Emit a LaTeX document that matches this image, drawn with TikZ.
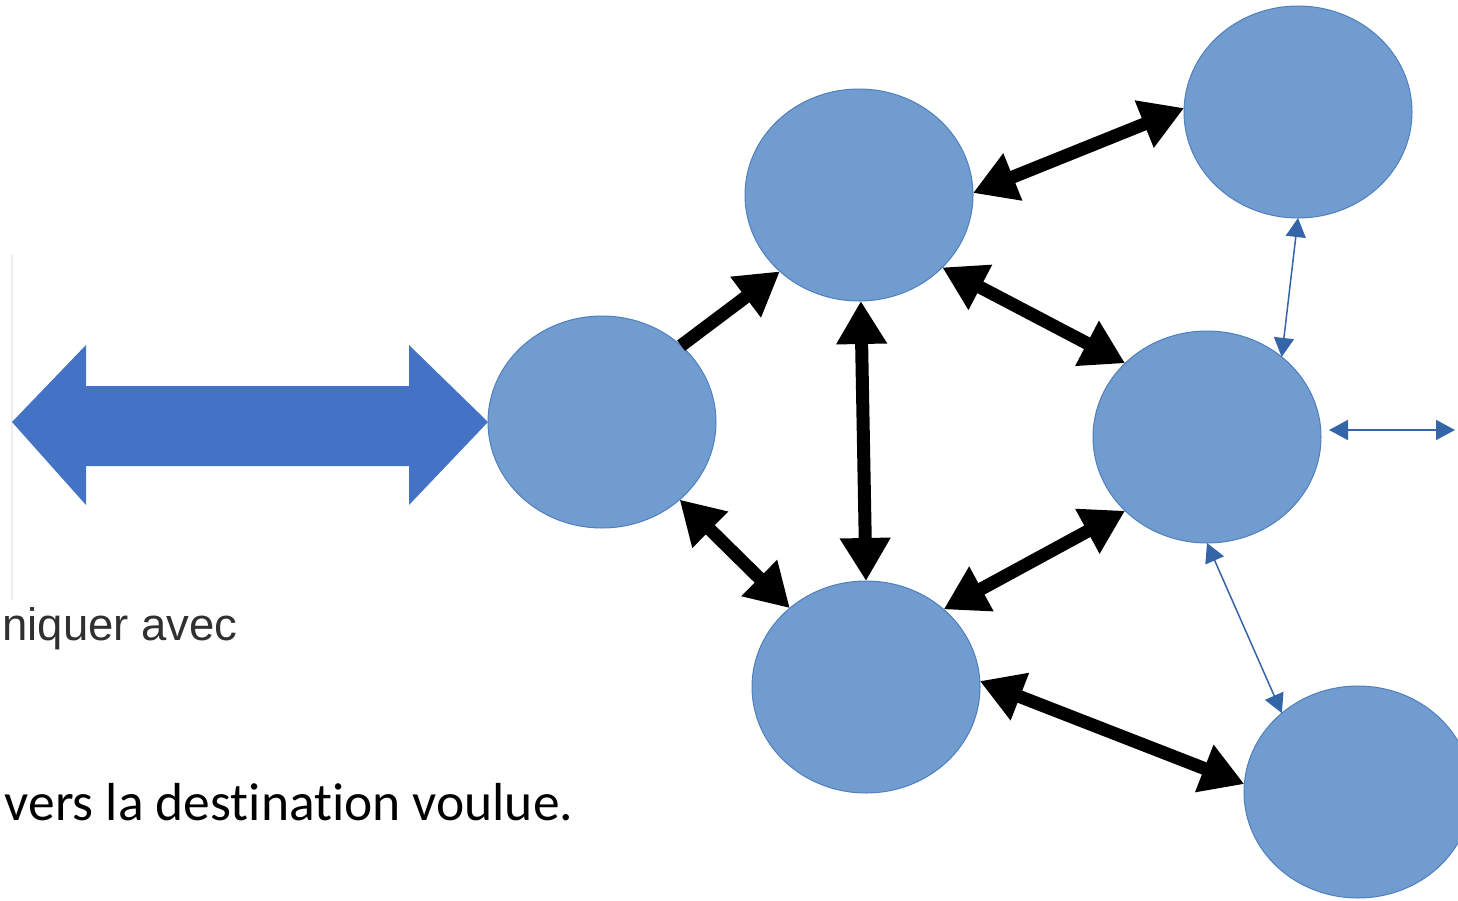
\documentclass[tikz,border=0pt]{standalone}
\usepackage{fontspec}
\setmainfont{Liberation Sans}
\newfontfamily\calfont[Ligatures=NoCommon]{Carlito}
\newfontfamily\arialfont{Liberation Sans}
\usetikzlibrary{shapes.geometric,arrows.meta}
\definecolor{nodefill}{HTML}{719CCF}
\definecolor{nodeline}{HTML}{4F7FBE}
\definecolor{bigblue}{HTML}{4472C4}
\definecolor{thinblue}{HTML}{3465A8}
\definecolor{txtgray}{HTML}{303030}
\definecolor{faint}{HTML}{EEEEEE}
\tikzset{
  ell/.style={ellipse, minimum width=228pt, minimum height=212pt, inner sep=0pt, outer sep=0pt, fill=nodefill, draw=nodeline, line width=1pt},
  bigtip/.tip={Triangle[length=43pt,width=48pt]},
  smalltip/.tip={Triangle[length=19pt,width=20pt]},
  blk/.style={line width=13pt, black, bigtip-bigtip},
  blkone/.style={line width=13pt, black, -bigtip},
  thn/.style={line width=1.5pt, thinblue, smalltip-smalltip}
}
\begin{document}
\begin{tikzpicture}[x=1pt,y=-1pt]
\useasboundingbox (0,0) rectangle (1458,900);
% faint vertical line
\draw[faint, line width=1.5pt] (12,255) -- (12,600);
% big double arrow
\fill[bigblue] (12,422) -- (86,345) -- (86,386) -- (409,386) -- (409,345) -- (488,422)
  -- (409,505) -- (409,466) -- (86,466) -- (86,505) -- cycle;
% nodes
\node[ell] (L)  at (602,422) {};
\node[ell] (T)  at (859,195) {};
\node[ell] (TR) at (1298,112) {};
\node[ell] (R)  at (1207,437) {};
\node[ell] (B)  at (866,687) {};
\node[ell] (BR) at (1358,792) {};
\coordinate (out) at (1455,430);
% black arrows
\draw[blkone] (L.44) -- (T.-136);
\draw[blk] (T.1) -- (TR.178);
\draw[blk] (T.-41) -- (R.138);
\draw[blk] (T.-89.5) -- (B.90);
\draw[blk] (L.-45) -- (B.134);
\draw[blk] (R.-138) -- (B.45);
\draw[blk] (B.3) -- (BR.176);
% thin arrows
\draw[thn] (TR.-90.5) -- (R.47);
\draw[thn] ([shift={(8,-7)}]R.east) -- (out);
\draw[thn] (R.-90) -- (BR.134);
% texts
\node[anchor=base east, inner sep=0pt, text=txtgray] (t1) at (238,640)
  {\arialfont\fontsize{45.5}{52}\selectfont niquer avec};
\node[anchor=base west, inner sep=0pt, text=black] (t2) at (4.5,820)
  {\calfont\fontsize{53.5}{60}\selectfont vers la destination voulue.};
\end{tikzpicture}
\end{document}
